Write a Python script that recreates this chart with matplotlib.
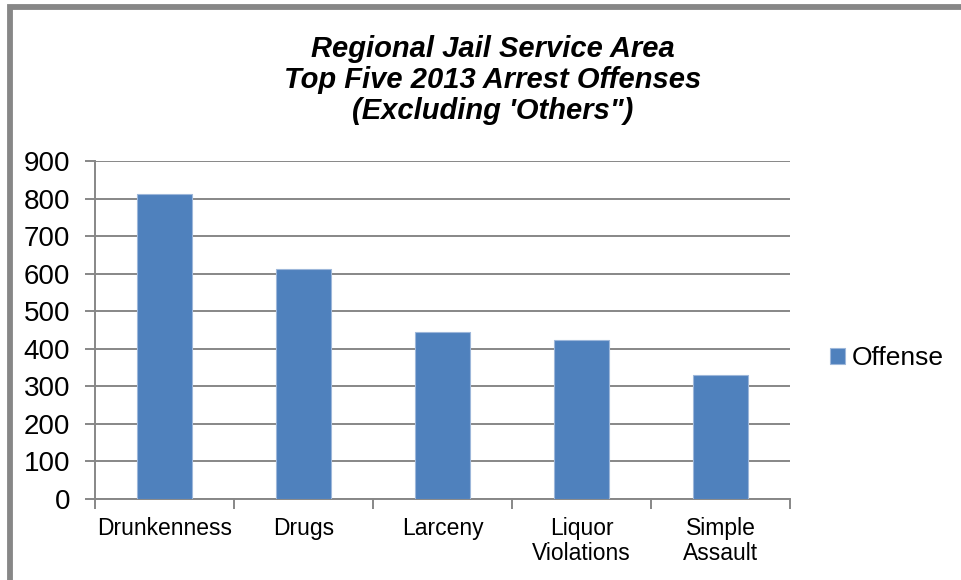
import matplotlib
matplotlib.use("Agg")
import matplotlib.pyplot as plt
from matplotlib.patches import Rectangle
import numpy as np

plt.rcParams["font.family"] = ["Liberation Sans", "DejaVu Sans"]

categories = ["Drunkenness", "Drugs", "Larceny", "Liquor\nViolations", "Simple\nAssault"]
offenses = [812, 613, 445, 424, 330]
yticks = [0, 100, 200, 300, 400, 500, 600, 700, 800, 900]

bar_color = "#4F81BD"
grid_color = "#878787"

fig = plt.figure(figsize=(9.61, 5.80), dpi=100)
ax = fig.add_axes([95 / 961, 1 - 499 / 580, 695 / 961, 338 / 580])

x = np.arange(len(categories))
ax.bar(x, offenses, width=0.39, color=bar_color, edgecolor="#9DB7DA",
       linewidth=0.8, zorder=3, label="Offense")

ax.set_xlim(-0.5, len(categories) - 0.5)
ax.set_ylim(0, 900)
ax.set_yticks(yticks)
ax.set_yticklabels([str(v) for v in yticks], fontsize=20)
ax.yaxis.grid(True, color=grid_color, linewidth=1.4, zorder=0)
ax.tick_params(axis="y", length=7, width=1.4, color=grid_color, pad=11)

ax.set_xticks(x)
ax.set_xticklabels(categories, fontsize=16.5, linespacing=1.1, va="top")
ax.tick_params(axis="x", which="major", length=0, pad=13)
ax.set_xticks(np.arange(-0.5, len(categories)), minor=True)
ax.tick_params(axis="x", which="minor", length=7, width=1.4, color=grid_color)

for side in ["top", "right"]:
    ax.spines[side].set_visible(False)
for side in ["left", "bottom"]:
    ax.spines[side].set_color(grid_color)
    ax.spines[side].set_linewidth(1.4)

fig.text(493 / 961, 1 - 80 / 580,
         "Regional Jail Service Area\nTop Five 2013 Arrest Offenses\n(Excluding 'Others\")",
         ha="center", va="center", fontsize=21, fontweight="bold",
         fontstyle="italic", linespacing=1.15)

ax.legend(loc="center left", bbox_to_anchor=(1.043, 0.417), frameon=False,
          fontsize=19, handlelength=0.55, handleheight=0.55, handletextpad=0.25,
          borderaxespad=0)

# outer chart frame (left and top edges visible)
fig.patches.append(Rectangle((10 / 961, -0.01), 1.2, 1 - 6.5 / 580 + 0.01,
                             transform=fig.transFigure, fill=False,
                             edgecolor="#878787", linewidth=4.2))

fig.savefig("out.png", dpi=100)
